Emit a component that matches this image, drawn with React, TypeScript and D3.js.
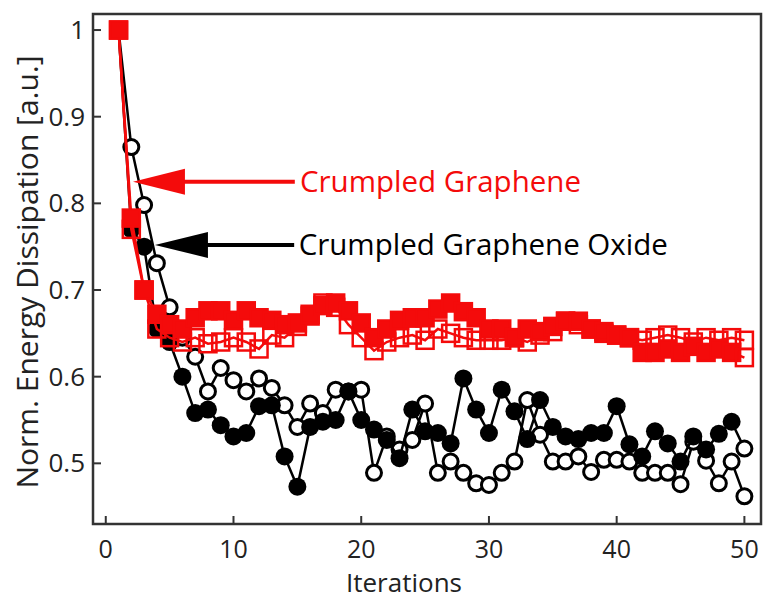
import React from "react";
import * as d3 from "d3";

const iterations = d3.range(1, 51);

const grapheneFilled = [1.0, 0.783, 0.70, 0.672, 0.66, 0.655, 0.668, 0.676, 0.676, 0.665,
  0.676, 0.668, 0.665, 0.66, 0.662, 0.672, 0.682, 0.685, 0.676, 0.662,
  0.645, 0.655, 0.665, 0.668, 0.668, 0.678, 0.685, 0.675, 0.668, 0.655,
  0.655, 0.645, 0.655, 0.652, 0.658, 0.664, 0.664, 0.655, 0.652, 0.648,
  0.645, 0.628, 0.628, 0.632, 0.628, 0.635, 0.628, 0.632, 0.628, 0.622];

const grapheneOpen = [1.0, 0.77, 0.70, 0.655, 0.645, 0.64, 0.645, 0.638, 0.64, 0.645,
  0.64, 0.632, 0.648, 0.645, 0.658, 0.67, 0.685, 0.68, 0.66, 0.645,
  0.63, 0.64, 0.645, 0.648, 0.642, 0.655, 0.65, 0.645, 0.642, 0.642,
  0.642, 0.645, 0.64, 0.648, 0.652, 0.664, 0.66, 0.655, 0.65, 0.648,
  0.645, 0.642, 0.645, 0.648, 0.645, 0.64, 0.645, 0.642, 0.645, 0.642];

const oxideFilled = [1.0, 0.77, 0.75, 0.655, 0.64, 0.60, 0.558, 0.562, 0.544, 0.531,
  0.535, 0.566, 0.567, 0.508, 0.473, 0.542, 0.548, 0.55, 0.583, 0.55,
  0.539, 0.527, 0.506, 0.562, 0.537, 0.535, 0.523, 0.598, 0.562, 0.535,
  0.585, 0.56, 0.528, 0.573, 0.542, 0.531, 0.528, 0.535, 0.535, 0.566,
  0.522, 0.508, 0.537, 0.523, 0.502, 0.531, 0.516, 0.534, 0.548, 0.517];

const oxideOpen = [1.0, 0.865, 0.798, 0.731, 0.68, 0.645, 0.623, 0.583, 0.61, 0.596,
  0.583, 0.598, 0.587, 0.567, 0.542, 0.569, 0.558, 0.585, 0.583, 0.585,
  0.489, 0.531, 0.516, 0.527, 0.569, 0.489, 0.502, 0.489, 0.477, 0.475,
  0.489, 0.502, 0.573, 0.533, 0.502, 0.502, 0.508, 0.49, 0.504, 0.504,
  0.502, 0.489, 0.489, 0.489, 0.476, 0.525, 0.503, 0.477, 0.502, 0.462];

const xTicks = [0, 10, 20, 30, 40, 50];
const yTicks = [0.5, 0.6, 0.7, 0.8, 0.9, 1];

const labelGraphene = "Crumpled Graphene";
const labelOxide = "Crumpled Graphene Oxide";
// annotation anchors in data units: [tipX, headBaseX, lineEndX, textX, y]
const arrowGraphene = [2.13, 6.2, 14.8, 15.2, 0.825];
const arrowOxide = [3.85, 8.0, 14.75, 15.1, 0.752];

const RED = "#f40b0b";
const FONT = "'Open Sans', 'Noto Sans', sans-serif";

export default function App() {
  const width = 767;
  const height = 600;
  const left = 93, right = 761, top = 14, bottom = 524;
  const x = d3.scaleLinear().domain([-1, 51.3]).range([left, right]);
  const y = d3.scaleLinear().domain([0.43, 1.0185]).range([bottom, top]);

  const line = (vals: number[]) =>
    d3.line<number>().x((_, i) => x(iterations[i])).y((v) => y(v))(vals) || "";

  const sq = 17;
  const r = 7.5;

  const arrow = (a: number[], color: string, label: string) => {
    const [tip, base, end, tx, v] = a;
    const yy = y(v);
    return (
      <g>
        <line x1={x(base) - 2} x2={x(end)} y1={yy} y2={yy} stroke={color} strokeWidth={4} />
        <polygon points={`${x(tip)},${yy} ${x(base)},${yy - 13} ${x(base)},${yy + 13}`} fill={color} />
        <text x={x(tx)} y={yy + 10} fill={color} fontSize={29.5} fontFamily={FONT}>{label}</text>
      </g>
    );
  };

  const nO = oxideFilled.length - 1;
  const nG = grapheneFilled.length - 1;

  return (
    <svg width={width} height={height} style={{ position: "absolute", left: 0, top: 0, background: "#fff" }}>
      <rect x={0} y={0} width={width} height={height} fill="#fff" />
      {/* black open circles */}
      <path d={line(oxideOpen)} fill="none" stroke="#000" strokeWidth={2.5} />
      {oxideOpen.map((v, i) => (
        <circle key={"oo" + i} cx={x(iterations[i])} cy={y(v)} r={r} fill="#fff" stroke="#000" strokeWidth={3} />
      ))}
      {/* black filled circles */}
      <path d={line(oxideFilled)} fill="none" stroke="#000" strokeWidth={2.5} />
      {oxideFilled.map((v, i) => (
        <circle key={"of" + i} cx={x(iterations[i])} cy={y(v)} r={i === nO ? r : r + 1.5}
          fill={i === nO ? "#fff" : "#000"} stroke="#000" strokeWidth={i === nO ? 3 : 0} />
      ))}
      {/* red open squares */}
      <path d={line(grapheneOpen)} fill="none" stroke={RED} strokeWidth={2.5} />
      {grapheneOpen.map((v, i) => (
        <rect key={"go" + i} x={x(iterations[i]) - sq / 2} y={y(v) - sq / 2} width={sq} height={sq} fill="none" stroke={RED} strokeWidth={2.5} />
      ))}
      {/* red filled squares */}
      <path d={line(grapheneFilled)} fill="none" stroke={RED} strokeWidth={2.5} />
      {grapheneFilled.map((v, i) => (
        <rect key={"gf" + i} x={x(iterations[i]) - sq / 2} y={y(v) - sq / 2} width={sq} height={sq}
          fill={i === nG ? "none" : RED} stroke={RED} strokeWidth={2.5} />
      ))}

      {/* axes box */}
      <rect x={left} y={top} width={right - left} height={bottom - top} fill="none" stroke="#333" strokeWidth={2.5} />
      {xTicks.map((t) => (
        <g key={"xt" + t}>
          <line x1={x(t)} x2={x(t)} y1={bottom} y2={bottom - 8} stroke="#333" strokeWidth={2} />
          <text x={x(t)} y={bottom + 34} textAnchor="middle" fontSize={25} fontFamily={FONT} fill="#222">{t}</text>
        </g>
      ))}
      {yTicks.map((t) => (
        <g key={"yt" + t}>
          <line x1={left} x2={left + 8} y1={y(t)} y2={y(t)} stroke="#333" strokeWidth={2} />
          <text x={left - 8} y={y(t) + 9} textAnchor="end" fontSize={26} fontFamily={FONT} fill="#222">{d3.format("~g")(t)}</text>
        </g>
      ))}
      <text x={404} y={592} textAnchor="middle" fontSize={26} fontFamily={FONT} fill="#222">Iterations</text>
      <text transform={`translate(38,${(top + bottom) / 2 + 3}) rotate(-90)`} textAnchor="middle" fontSize={30} fontFamily={FONT} fill="#222">
        Norm. Energy Dissipation [a.u.]
      </text>

      {arrow(arrowGraphene, RED, labelGraphene)}
      {arrow(arrowOxide, "#000", labelOxide)}
    </svg>
  );
}
